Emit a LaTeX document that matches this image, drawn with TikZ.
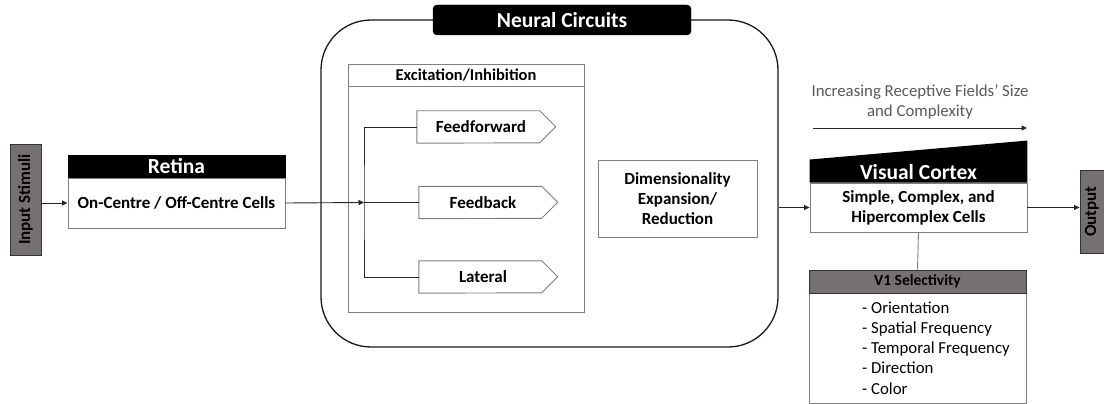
\documentclass[tikz,border=0pt]{standalone}
\usepackage{fontspec}
\setmainfont{Carlito}
\usetikzlibrary{arrows.meta}
\definecolor{boxgray}{HTML}{767171}
\definecolor{edgegray}{HTML}{7F7F7F}
\definecolor{notegray}{HTML}{595959}
\tikzset{
  arr/.style={draw=black!85, line width=0.9pt, -{Triangle[length=5.5pt,width=5pt]}},
  wire/.style={draw=black!85, line width=0.9pt},
  plainbox/.style={draw=edgegray, line width=0.9pt, fill=white, inner sep=0pt},
  blackhead/.style={fill=black, draw=black, text=white, inner sep=0pt},
  grayhead/.style={fill=boxgray, draw=black!80, line width=0.9pt, inner sep=0pt},
  bodytxt/.style={font=\fontsize{17}{20}\selectfont\bfseries, align=center},
  titletxt/.style={font=\fontsize{21.5}{24}\selectfont\bfseries},
  ghost/.style={inner sep=0pt, minimum height=32pt, minimum width=128pt},
  tag/.style={draw=edgegray, line width=0.9pt, fill=white},
}
\begin{document}
\begin{tikzpicture}[x=1pt,y=-1pt]
\useasboundingbox (0,0) rectangle (1104,404);

% side labels
\node[grayhead, minimum width=31pt, minimum height=111pt] (input) at (25.5,199.5) {};
\node[rotate=90, font=\fontsize{17}{19}\selectfont\bfseries] (inputtxt) at (input.center) {Input Stimuli};
\node[grayhead, minimum width=31pt, minimum height=83pt] (output) at (1095.5,211.5) {};
\node[rotate=90, font=\fontsize{17}{19}\selectfont\bfseries] (outputtxt) at (1092,211.5) {Output};

% retina
\node[blackhead, minimum width=217pt, minimum height=23pt, titletxt] (rhead) at (176.5,166.5) {Retina};
\node[plainbox, minimum width=217pt, minimum height=50pt, bodytxt] (rbody) at (176.5,203) {On-Centre / Off-Centre Cells};

% neural circuits container
\node[draw=black!90, line width=1.3pt, rounded corners=50pt, minimum width=457pt, minimum height=327pt, inner sep=0pt] (outer) at (549.5,183.5) {};
\node[blackhead, rounded corners=4pt, minimum width=258pt, minimum height=30pt, titletxt] (nchead) at (562,20) {Neural Circuits};

% excitation / inhibition panel
\node[plainbox, minimum width=236pt, minimum height=226pt] (exc) at (466,199) {};
\node[plainbox, minimum width=236pt, minimum height=22pt, font=\fontsize{16.5}{18}\selectfont\bfseries] (exchead) at (466,75) {Excitation/Inhibition};

% pathway tags
\node[ghost] (ff) at (481,127) {};
\node[ghost] (fb) at (483,202.5) {};
\node[ghost] (lat) at (483,277) {};
\foreach \t in {ff,fb,lat}{
  \draw[tag] (\t.north west) -- ++(123,0) -- ++(16,16) -- ++(-16,16) -- (\t.south west) -- cycle;
}
\node[bodytxt] (fftxt) at (ff.center) {Feedforward};
\node[bodytxt] (fbtxt) at (fb.center) {Feedback};
\node[bodytxt] (lattxt) at (lat.center) {Lateral};

% dimensionality
\node[plainbox, minimum width=159pt, minimum height=77pt, bodytxt] (dim) at (677.5,198.5) {Dimensionality\\Expansion/\\Reduction};

% visual cortex
\node[plainbox, minimum width=217pt, minimum height=49pt, bodytxt] (vbody) at (918.5,207.5) {Simple, Complex, and\\Hipercomplex Cells};
\fill[black] (vbody.north west) -- ++(0,-23) -- ([yshift=42pt]vbody.north east) -- (vbody.north east) -- cycle;
\node[titletxt, text=white] (vtitle) at (918.5,172) {Visual Cortex};

% receptive field note
\node[font=\fontsize{16.8}{20}\selectfont, text=notegray, align=center] (note) at (920,102) {Increasing Receptive Fields’ Size\\and Complexity};
\coordinate (n1) at (813,128);
\coordinate (n2) at (1027,128);
\draw[arr] (n1) -- (n2);

% V1 selectivity
\node[plainbox, minimum width=217pt, minimum height=110pt] (v1body) at (917.5,348) {};
\node[grayhead, minimum width=217pt, minimum height=23pt, font=\fontsize{15.5}{18}\selectfont\bfseries] (v1head) at (917.5,281.5) {V1 Selectivity};
\node[anchor=west, inner sep=0pt, align=left, font=\fontsize{16.8}{20.2}\selectfont] (v1list) at (862,348) {- Orientation\\- Spatial Frequency\\- Temporal Frequency\\- Direction\\- Color};

% connectors
\coordinate (trunk) at (364,202.5);
\draw[arr] (rbody.west -| input.east) -- (rbody.west);
\draw[arr] (rbody.east) -- (trunk);
\draw[wire] (ff.west) -| (trunk) |- (lat.west);
\draw[wire] (trunk) -- (fb.west);
\draw[arr] (vbody.west -| outer.east) -- (vbody.west);
\draw[arr] (vbody.east) -- (vbody.east -| output.west);
\draw[wire, draw=edgegray] (vbody.south) -- (v1head.north);
\end{tikzpicture}
\end{document}
